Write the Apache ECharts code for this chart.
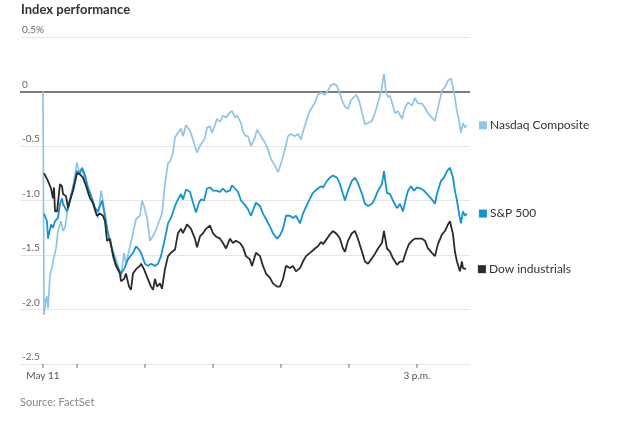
<!DOCTYPE html>
<html>
<head>
<meta charset="utf-8">
<script src="https://cdn.jsdelivr.net/npm/echarts@6/dist/echarts.min.js"></script>
<style>
html,body{margin:0;padding:0;background:#fff;}
#chart{width:630px;height:421px;}
</style>
</head>
<body>
<div id="chart"></div>
<script>
// minutes after 9:30 a.m. open, percent change
var nasdaq = [[0,0],[0.9,-2.05],[2.6,-1.90],[3.5,-1.88],[4.4,-1.99],[6.2,-1.68],[7.9,-1.62],[8.8,-1.56],[11.5,-1.44],[13.2,-1.28],[15.9,-1.19],[17.6,-1.28],[19.4,-1.25],[21.2,-1.12],[23.8,-0.98],[26.5,-0.88],[30.0,-0.65],[31.8,-0.73],[34.4,-0.71],[37.1,-0.82],[39.7,-0.94],[43.2,-1.00],[45.9,-1.10],[48.5,-1.16],[51.2,-0.91],[52.9,-1.00],[54.7,-1.16],[57.4,-1.31],[60.0,-1.42],[63.5,-1.51],[66.2,-1.60],[68.8,-1.70],[71.5,-1.48],[73.2,-1.58],[76.8,-1.42],[79.4,-1.30],[82.1,-1.17],[85.6,-1.14],[87.4,-1.00],[89.1,-1.05],[91.8,-1.16],[94.4,-1.37],[97.9,-1.31],[101.5,-1.22],[105.0,-1.12],[107.6,-0.85],[110.3,-0.66],[112.1,-0.64],[114.7,-0.56],[116.5,-0.42],[119.1,-0.38],[121.8,-0.34],[123.5,-0.41],[126.2,-0.31],[129.7,-0.36],[132.4,-0.44],[134.1,-0.50],[135.9,-0.56],[138.5,-0.50],[140.3,-0.47],[142.9,-0.43],[144.7,-0.33],[147.4,-0.32],[149.1,-0.38],[151.8,-0.31],[153.5,-0.25],[156.2,-0.28],[158.8,-0.22],[161.5,-0.24],[165.0,-0.19],[166.8,-0.18],[169.4,-0.24],[171.2,-0.22],[174.7,-0.29],[176.5,-0.37],[179.1,-0.41],[180.9,-0.41],[183.5,-0.50],[187.1,-0.42],[188.8,-0.35],[192.4,-0.41],[195.9,-0.47],[198.5,-0.53],[201.2,-0.62],[204.7,-0.68],[207.4,-0.74],[210.0,-0.66],[213.5,-0.53],[216.2,-0.41],[218.8,-0.39],[222.4,-0.41],[225.0,-0.39],[227.6,-0.44],[231.2,-0.31],[233.8,-0.22],[236.5,-0.16],[240.0,-0.10],[242.6,-0.03],[245.3,-0.01],[248.8,-0.03],[251.5,0.01],[254.1,0.06],[256.8,0.07],[259.4,0.05],[262.1,-0.02],[263.8,-0.08],[266.5,-0.14],[269.1,-0.16],[271.8,-0.08],[273.5,-0.08],[276.2,-0.03],[278.8,-0.08],[281.5,-0.19],[284.1,-0.30],[286.8,-0.29],[290.3,-0.27],[292.9,-0.20],[295.6,-0.10],[298.2,-0.01],[300.9,0.16],[302.6,0.00],[304.4,-0.05],[306.2,-0.04],[308.8,-0.13],[310.6,-0.20],[313.2,-0.18],[316.8,-0.25],[319.4,-0.15],[322.1,-0.10],[325.6,-0.13],[328.2,-0.06],[330.9,-0.11],[334.4,-0.11],[337.1,-0.15],[339.7,-0.20],[343.2,-0.24],[345.9,-0.27],[348.5,-0.15],[352.1,0.01],[354.7,0.04],[357.4,0.10],[360.0,0.12],[361.8,0.04],[363.5,-0.06],[365.3,-0.18],[367.1,-0.27],[368.8,-0.38],[370.6,-0.29],[372.4,-0.33],[374.1,-0.31]];

var sp500 = [[0.9,-1.12],[3.5,-1.19],[4.4,-1.35],[7.1,-1.22],[8.8,-1.25],[10.6,-1.19],[13.2,-1.16],[15.0,-1.03],[16.8,-0.98],[17.6,-1.03],[21.2,-1.10],[23.8,-1.00],[26.5,-0.88],[30.0,-0.73],[32.6,-0.75],[34.4,-0.70],[37.1,-0.77],[39.7,-0.88],[43.2,-0.98],[45.9,-1.07],[48.5,-1.10],[52.1,-1.00],[54.7,-1.14],[57.4,-1.30],[61.8,-1.48],[64.4,-1.58],[68.8,-1.67],[71.5,-1.63],[75.0,-1.54],[79.4,-1.48],[82.1,-1.42],[84.7,-1.45],[86.5,-1.48],[90.0,-1.58],[92.6,-1.60],[95.3,-1.58],[98.8,-1.60],[101.5,-1.58],[104.1,-1.51],[107.6,-1.35],[110.3,-1.21],[112.9,-1.16],[116.5,-1.05],[119.1,-0.99],[121.8,-0.94],[123.5,-0.99],[126.2,-0.90],[129.7,-0.92],[132.4,-1.02],[135.0,-1.11],[137.6,-1.02],[139.4,-0.99],[142.1,-1.00],[144.7,-0.89],[147.4,-0.88],[150.0,-0.91],[152.6,-0.91],[156.2,-0.92],[158.8,-0.89],[161.5,-0.92],[165.0,-0.91],[166.8,-0.86],[169.4,-0.89],[172.1,-0.92],[174.7,-1.00],[178.2,-1.04],[180.9,-1.08],[183.5,-1.14],[187.9,-1.02],[191.5,-1.05],[194.1,-1.12],[196.8,-1.17],[200.3,-1.24],[202.9,-1.30],[206.5,-1.35],[209.1,-1.32],[211.8,-1.26],[214.4,-1.14],[217.9,-1.14],[220.6,-1.16],[223.2,-1.14],[226.8,-1.21],[229.4,-1.12],[233.8,-1.02],[238.2,-0.93],[242.6,-0.89],[245.3,-0.87],[247.1,-0.88],[250.6,-0.82],[253.2,-0.79],[255.9,-0.77],[259.4,-0.79],[262.1,-0.85],[264.7,-0.94],[266.5,-1.00],[269.1,-0.91],[272.6,-0.82],[275.3,-0.79],[277.9,-0.84],[281.5,-0.94],[284.1,-1.03],[286.8,-1.05],[290.3,-1.03],[292.9,-0.98],[295.6,-0.91],[299.1,-0.85],[300.9,-0.73],[303.5,-0.93],[306.2,-0.94],[308.8,-1.00],[312.4,-1.07],[315.0,-1.03],[317.6,-1.10],[320.3,-0.98],[322.1,-0.91],[324.7,-0.87],[327.4,-0.91],[330.0,-0.88],[333.5,-0.89],[336.2,-0.91],[338.8,-0.94],[342.4,-0.98],[345.9,-1.03],[347.6,-0.94],[351.2,-0.82],[353.8,-0.79],[356.5,-0.73],[359.1,-0.70],[361.8,-0.79],[363.5,-0.91],[365.3,-1.00],[367.1,-1.12],[368.8,-1.21],[370.6,-1.10],[372.4,-1.14],[374.1,-1.12]];

var dow = [[0.9,-0.75],[4.4,-0.82],[7.1,-0.89],[8.8,-0.98],[9.7,-0.88],[10.6,-1.10],[12.4,-1.10],[15.0,-0.85],[16.8,-0.87],[17.6,-0.94],[20.3,-0.96],[22.1,-1.07],[23.8,-1.00],[26.5,-0.91],[30.0,-0.75],[32.6,-0.76],[35.3,-0.79],[38.8,-0.89],[41.5,-0.98],[44.1,-1.02],[47.6,-1.14],[50.3,-1.12],[52.9,-1.14],[54.7,-1.19],[56.5,-1.37],[59.1,-1.35],[61.8,-1.51],[64.4,-1.60],[67.9,-1.67],[68.8,-1.74],[71.5,-1.72],[73.2,-1.67],[75.9,-1.79],[77.6,-1.82],[79.4,-1.67],[82.1,-1.63],[85.6,-1.60],[86.5,-1.58],[89.1,-1.63],[91.8,-1.70],[95.3,-1.79],[97.1,-1.82],[98.8,-1.72],[100.6,-1.79],[103.2,-1.76],[105.0,-1.81],[107.6,-1.63],[110.3,-1.51],[112.9,-1.48],[116.5,-1.45],[119.1,-1.30],[121.8,-1.26],[123.5,-1.30],[127.1,-1.22],[130.6,-1.26],[134.1,-1.35],[135.9,-1.43],[138.5,-1.33],[141.2,-1.30],[143.8,-1.26],[147.4,-1.23],[150.0,-1.30],[152.6,-1.33],[156.2,-1.35],[158.8,-1.39],[161.5,-1.44],[165.0,-1.35],[167.6,-1.39],[170.3,-1.37],[173.8,-1.39],[176.5,-1.43],[179.1,-1.51],[182.6,-1.54],[184.4,-1.60],[187.9,-1.48],[191.5,-1.51],[194.1,-1.60],[196.8,-1.67],[200.3,-1.71],[202.9,-1.76],[206.5,-1.79],[209.1,-1.79],[211.8,-1.72],[214.4,-1.60],[217.9,-1.62],[220.6,-1.60],[223.2,-1.65],[226.8,-1.62],[229.4,-1.56],[232.1,-1.51],[235.6,-1.48],[240.0,-1.44],[242.6,-1.42],[245.3,-1.38],[247.1,-1.40],[250.6,-1.35],[253.2,-1.31],[255.9,-1.28],[259.4,-1.31],[262.1,-1.35],[264.7,-1.44],[266.5,-1.47],[269.1,-1.37],[272.6,-1.30],[275.3,-1.28],[277.9,-1.35],[281.5,-1.47],[284.1,-1.56],[286.8,-1.58],[290.3,-1.53],[292.9,-1.49],[295.6,-1.44],[299.1,-1.39],[300.9,-1.28],[303.5,-1.44],[306.2,-1.47],[308.8,-1.53],[312.4,-1.59],[315.0,-1.56],[317.6,-1.56],[320.3,-1.47],[322.9,-1.40],[325.6,-1.37],[328.2,-1.35],[330.9,-1.35],[334.4,-1.35],[337.1,-1.37],[339.7,-1.44],[343.2,-1.48],[345.9,-1.51],[348.5,-1.40],[352.1,-1.31],[354.7,-1.28],[357.4,-1.22],[359.1,-1.19],[361.8,-1.31],[363.5,-1.47],[365.3,-1.56],[367.9,-1.65],[369.7,-1.56],[370.6,-1.62],[373.2,-1.63]];

var seriesNames = ['Nasdaq Composite', 'S&P 500', 'Dow industrials'];
var xTickMinutes = [0, 30, 90, 150, 210, 270, 330];
var xLabelMinutes = [0, 330];
var xLabelText = {0: 'May 11', 330: '3 p.m.'};
var yMin = -2.5;

var FONT = 'Lato, "Noto Sans", sans-serif';
var colors = ['#8fc4e6', '#1592cf', '#2b2b2b'];

function endLabel(color, name) {
  return {
    show: true,
    distance: 12,
    formatter: '{sq|}{t|' + name + '}',
    rich: {
      sq: {width: 8, height: 8, backgroundColor: color},
      t: {fontFamily: FONT, fontSize: 12, color: '#333', padding: [0, 0, 0, 3]}
    }
  };
}

var tickData = xTickMinutes.map(function (m) { return [m, yMin]; });

var chart = echarts.init(document.getElementById('chart'), null, {renderer: 'canvas'});
chart.setOption({
  animation: false,
  backgroundColor: '#fff',
  title: [{
    text: 'Index performance', left: 21, top: 3, padding: 0,
    textStyle: {fontFamily: FONT, fontSize: 13, fontWeight: 'bold', color: '#333'}
  }, {
    text: 'Source: FactSet', left: 20, top: 397, padding: 0,
    textStyle: {fontFamily: FONT, fontSize: 11, fontWeight: 'normal', color: '#888'}
  }],
  grid: {left: 20, right: 160, top: 37, bottom: 57, containLabel: false},
  xAxis: {
    type: 'value', min: -20.3, max: 376.8,
    axisLine: {show: true, lineStyle: {color: '#e6e6e6', width: 1}},
    splitLine: {show: false},
    axisTick: {show: false},
    axisLabel: {
      customValues: xLabelMinutes, margin: 7,
      fontFamily: FONT, fontSize: 10, color: '#555',
      formatter: function (v) { return xLabelText[v] || ''; }
    }
  },
  yAxis: {
    type: 'value', min: yMin, max: 0.5, interval: 0.5,
    axisLine: {show: false}, axisTick: {show: false},
    splitLine: {lineStyle: {color: '#e6e6e6', width: 1}},
    axisLabel: {
      inside: true, margin: 2, verticalAlign: 'bottom', padding: [0, 0, 2, 0],
      fontFamily: FONT, fontSize: 10, color: '#666',
      formatter: function (v) {
        if (v === 0) return '0';
        if (v === 0.5) return '0.5%';
        return v.toFixed(1);
      }
    }
  },
  series: [{
    name: seriesNames[0], type: 'line', data: nasdaq, showSymbol: false, symbol: 'none',
    lineStyle: {color: colors[0], width: 1.7}, z: 3,
    endLabel: endLabel(colors[0], seriesNames[0]),
    markLine: {
      silent: true, symbol: ['none', 'none'], label: {show: false},
      lineStyle: {color: '#555', width: 1.5, type: 'solid'},
      data: [{yAxis: 0}], z: 2
    }
  }, {
    name: seriesNames[1], type: 'line', data: sp500, showSymbol: false, symbol: 'none',
    lineStyle: {color: colors[1], width: 1.8}, z: 4,
    endLabel: endLabel(colors[1], seriesNames[1])
  }, {
    name: seriesNames[2], type: 'line', data: dow, showSymbol: false, symbol: 'none',
    lineStyle: {color: colors[2], width: 1.8}, z: 5,
    endLabel: endLabel(colors[2], seriesNames[2])
  }, {
    name: 'ticks', type: 'scatter', data: tickData, silent: true, clip: false,
    symbol: 'rect', symbolSize: [1.2, 4], symbolOffset: [0, 2],
    itemStyle: {color: '#666'}, z: 6
  }]
});
</script>
</body>
</html>
